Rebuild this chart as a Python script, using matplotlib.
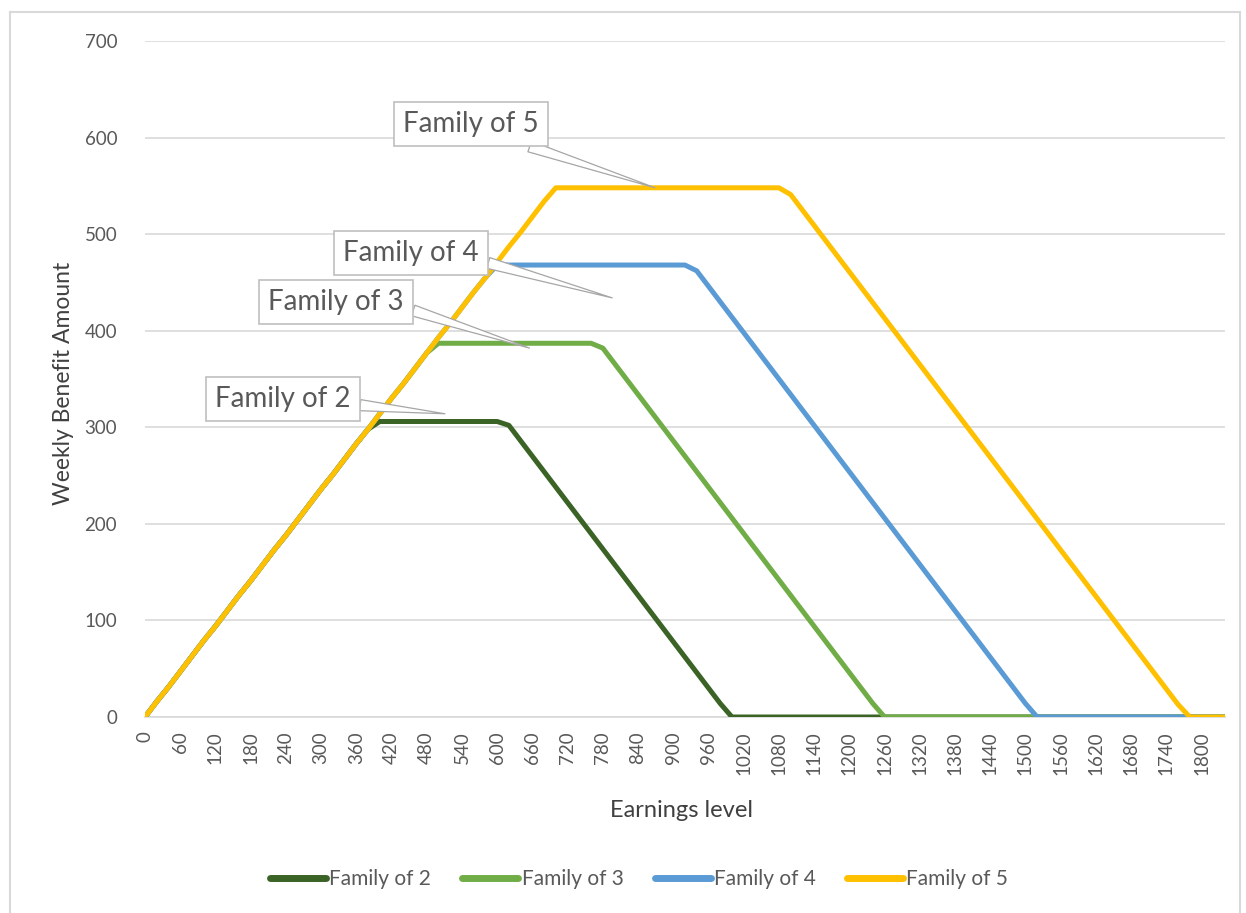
import matplotlib
matplotlib.use("Agg")
import matplotlib.pyplot as plt
from matplotlib.lines import Line2D

# ---------------- data ----------------
earnings = list(range(0, 1841, 20))  # earnings level categories (step 20)

family_2 = [0, 16, 31, 47, 63, 79, 94, 110, 126, 141, 157, 173, 188, 204, 220, 236, 251, 267, 283, 298,
            306, 306, 306, 306, 306, 306, 306, 306, 306, 306, 306,
            302, 286, 270, 254, 238, 222, 206, 190, 174, 158, 142, 126, 110, 94, 78, 62, 46, 30, 14,
            0, 0, 0, 0, 0, 0, 0, 0, 0, 0, 0, 0, 0, 0, 0, 0, 0, 0, 0, 0, 0,
            0, 0, 0, 0, 0, 0, 0, 0, 0, 0, 0, 0, 0, 0, 0, 0, 0, 0, 0, 0, 0, 0]

family_3 = [0, 16, 31, 47, 63, 79, 94, 110, 126, 141, 157, 173, 188, 204, 220, 236, 251, 267, 283, 298,
            314, 330, 345, 361, 377,
            387, 387, 387, 387, 387, 387, 387, 387, 387, 387, 387, 387, 387, 387,
            382, 366, 350, 334, 318, 302, 286, 270, 254, 238, 222, 206, 190, 174, 158, 142, 126, 110,
            94, 78, 62, 46, 30, 14,
            0, 0, 0, 0, 0, 0, 0, 0, 0, 0, 0, 0, 0, 0, 0,
            0, 0, 0, 0, 0, 0, 0, 0, 0, 0, 0, 0, 0, 0, 0]

family_4 = [0, 16, 31, 47, 63, 79, 94, 110, 126, 141, 157, 173, 188, 204, 220, 236, 251, 267, 283, 298,
            314, 330, 345, 361, 377, 393, 408, 424, 440, 455,
            468, 468, 468, 468, 468, 468, 468, 468, 468, 468, 468, 468, 468, 468, 468, 468, 468,
            462, 446, 430, 414, 398, 382, 366, 350, 334, 318, 302, 286, 270, 254, 238, 222, 206,
            190, 174, 158, 142, 126, 110, 94, 78, 62, 46, 30, 14,
            0, 0, 0, 0, 0, 0, 0, 0, 0, 0, 0, 0, 0, 0, 0, 0, 0]

family_5 = [0, 16, 31, 47, 63, 79, 94, 110, 126, 141, 157, 173, 188, 204, 220, 236, 251, 267, 283, 298,
            314, 330, 345, 361, 377, 393, 408, 424, 440, 455, 471, 487, 502, 518, 534,
            548, 548, 548, 548, 548, 548, 548, 548, 548, 548, 548, 548, 548, 548, 548, 548, 548, 548,
            548, 548,
            541, 525, 509, 493, 477, 461, 445, 429, 413, 397, 381, 365, 349, 333, 317, 301, 285,
            269, 253, 237, 221, 205, 189, 173, 157, 141, 125, 109, 93, 77, 61, 45, 29, 13,
            0, 0, 0, 0]

series_names = ["Family of 2", "Family of 3", "Family of 4", "Family of 5"]
series_values = [family_2, family_3, family_4, family_5]
series_colors = ["#3B6326", "#70AD47", "#5B9BD5", "#FFC000"]

y_ticks = [0, 100, 200, 300, 400, 500, 600, 700]
x_tick_labels = list(range(0, 1801, 60))

# ---------------- figure ----------------
W, H = 1246, 913
fig = plt.figure(figsize=(W / 100, H / 100), dpi=100)
FONT = ["Lato", "DejaVu Sans"]
plt.rcParams["font.family"] = FONT

def px(x, y):
    return x / W, 1 - y / H

left, right = 145, 1225
top, bottom = 41, 717
ax = fig.add_axes([left / W, 1 - bottom / H, (right - left) / W, (bottom - top) / H])

for name, vals, col in zip(series_names, series_values, series_colors):
    ax.plot(earnings, vals, color=col, lw=3.6, solid_joinstyle="round",
            solid_capstyle="round", label=name, zorder=3)

ax.set_xlim(0, 1840)
ax.set_ylim(0, 700)
ax.set_yticks(y_ticks)
ax.set_yticklabels([str(v) for v in y_ticks])
ax.set_xticks(x_tick_labels)
ax.set_xticklabels([str(v) for v in x_tick_labels], rotation=90)
ax.grid(axis="y", color="#d9d9d9", lw=1.2, zorder=0)
ax.set_axisbelow(True)
for s in ["top", "right", "left"]:
    ax.spines[s].set_visible(False)
ax.spines["bottom"].set_color("#d9d9d9")
ax.spines["bottom"].set_linewidth(1.2)
ax.tick_params(axis="both", length=0, colors="#595959", labelsize=13.5)
ax.tick_params(axis="y", pad=20)
ax.tick_params(axis="x", pad=10)

fig.text(*px(682, 810), "Earnings level", ha="center", va="center",
         fontsize=17, color="#404040")
fig.text(*px(63, 383), "Weekly Benefit Amount", ha="center", va="center",
         rotation=90, fontsize=16.5, color="#404040")

# ---------------- callouts ----------------
callouts = [
    ("Family of 5", (471, 124), (869, 548), (0.72, 0.0)),
    ("Family of 4", (411, 253), (796, 434), (1.0, 0.22)),
    ("Family of 3", (336, 302), (655, 382), (1.0, 0.29)),
    ("Family of 2", (283, 399), (511, 314), (1.0, 0.30)),
]
for text, (tx, ty), tip, rel in callouts:
    fx, fy = px(tx, ty)
    ax.annotate(text, xy=tip, xycoords="data", xytext=(fx, fy), textcoords="figure fraction",
                ha="center", va="center", fontsize=20, color="#595959", zorder=6,
                bbox=dict(boxstyle="square,pad=0.32", fc="white", ec="#bfbfbf", lw=1.2),
                arrowprops=dict(arrowstyle="wedge,tail_width=0.4,shrink_factor=0.5",
                                fc="white", ec="#a6a6a6", lw=0.9, relpos=rel,
                                shrinkA=0, shrinkB=0))

# ---------------- legend ----------------
handles = [Line2D([0], [0], color=c, lw=5, solid_capstyle="round") for c in series_colors]
fig.legend(handles, series_names, loc="center", bbox_to_anchor=px(639, 879), ncol=4,
           frameon=False, fontsize=15, handlelength=2.7, handletextpad=0.15,
           columnspacing=1.5, labelcolor="#595959")

# ---------------- chart border ----------------
border_col = "#d9d9d9"
fig.add_artist(Line2D([10 / W, 1240 / W], [1 - 12 / H, 1 - 12 / H], color=border_col, lw=1.5,
                      transform=fig.transFigure))
fig.add_artist(Line2D([10 / W, 10 / W], [1 - 12 / H, 0], color=border_col, lw=1.5,
                      transform=fig.transFigure))
fig.add_artist(Line2D([1240 / W, 1240 / W], [1 - 12 / H, 0], color=border_col, lw=1.5,
                      transform=fig.transFigure))

fig.savefig("out.png", dpi=100, facecolor="white")
